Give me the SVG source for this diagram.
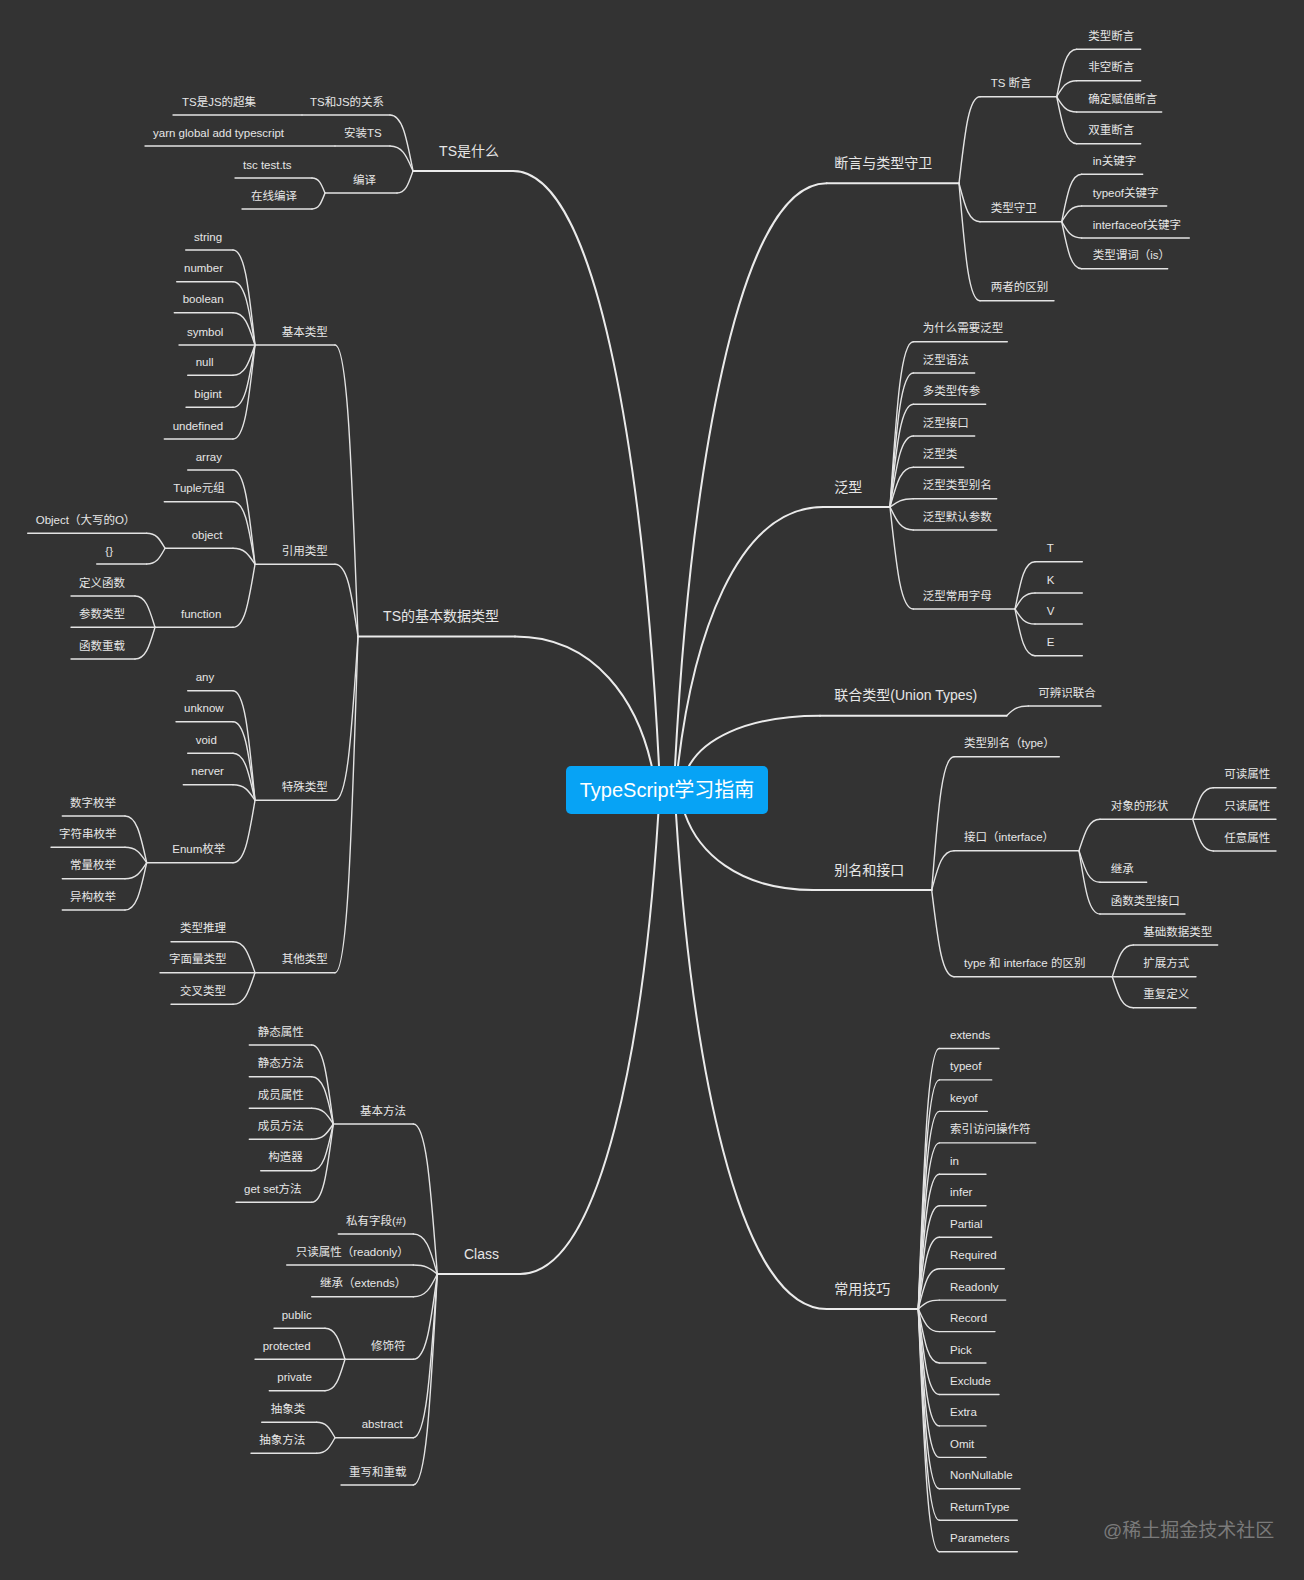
<svg xmlns="http://www.w3.org/2000/svg" width="1304" height="1580" viewBox="0 0 1304 1580">
<style>
text{font-family:"Liberation Sans","Noto Sans CJK SC",sans-serif;fill:#e6e6e6}
.t1{font-size:14px}
.t2{font-size:11.5px}
.e{text-anchor:end}
.k1{stroke:#ebebeb;stroke-width:2;fill:none;stroke-linecap:round}
.k2{stroke:#e3e3e3;stroke-width:1.4;fill:none;stroke-linecap:round}
</style>
<rect width="1304" height="1580" fill="#333333"/>
<g id="connectors">
<g class="k1">
<path d="M659,766 C644.4,480.4 600.6,171 513,171"/>
<path d="M651.7,766 C638,703.9 597,636.5 515,636.5"/>
<path d="M658.3,814 C644.5,1034.7 603,1274 520,1274"/>
<path d="M675,766 C690,486.3 735.7,183.3 826.7,183.3"/>
<path d="M678,766 C692.5,641.5 735.1,507 823.3,507"/>
<path d="M689,766 C702,741.9 741.4,715.7 820,715.7"/>
<path d="M685,814 C697.8,850.5 736.3,890 813.3,890"/>
<path d="M676,814 C691,1051.5 736.3,1309 826.7,1309"/>
</g>
<g class="k2">
<path d="M390,115 C402.7,115 406.6,138.5 413,171"/>
<path d="M390,146 C402.7,146 406.6,156.5 413,171"/>
<path d="M397,193 C405.8,193 408.5,183.8 413,171"/>
<path d="M312,178 C319.2,178 321.4,184.3 325,193"/>
<path d="M312,209 C319.2,209 321.4,202.3 325,193"/>
<path d="M335,345 C347.7,345 351.6,467.4 358,636.5"/>
<path d="M335,564.3 C347.7,564.3 351.6,594.6 358,636.5"/>
<path d="M335,800.3 C347.7,800.3 351.6,731.5 358,636.5"/>
<path d="M335,972.7 C347.7,972.7 351.6,831.5 358,636.5"/>
<path d="M233,250 C245.1,250 248.8,289.9 255,345"/>
<path d="M233,281.7 C245.1,281.7 248.8,308.3 255,345"/>
<path d="M233,312.7 C245.1,312.7 248.8,326.3 255,345"/>
<path d="M233,375.3 C245.1,375.3 248.8,362.6 255,345"/>
<path d="M233,407.3 C245.1,407.3 248.8,381.1 255,345"/>
<path d="M233,439 C245.1,439 248.8,399.5 255,345"/>
<path d="M233,470 C245.1,470 248.8,509.6 255,564.3"/>
<path d="M233,501.7 C245.1,501.7 248.8,528 255,564.3"/>
<path d="M233,548.3 C245.1,548.3 248.8,555 255,564.3"/>
<path d="M233,627.3 C245.1,627.3 248.8,600.8 255,564.3"/>
<path d="M146.7,533.3 C156.8,533.3 159.9,539.6 165,548.3"/>
<path d="M146.7,564 C156.8,564 159.9,557.4 165,548.3"/>
<path d="M135,596 C146,596 149.4,609.1 155,627.3"/>
<path d="M135,659 C146,659 149.4,645.7 155,627.3"/>
<path d="M233,690.7 C245.1,690.7 248.8,736.7 255,800.3"/>
<path d="M233,721.7 C245.1,721.7 248.8,754.7 255,800.3"/>
<path d="M233,753.3 C245.1,753.3 248.8,773 255,800.3"/>
<path d="M233,784.7 C245.1,784.7 248.8,791.3 255,800.3"/>
<path d="M233,862.7 C245.1,862.7 248.8,836.5 255,800.3"/>
<path d="M125,816 C136.9,816 140.6,835.6 146.7,862.7"/>
<path d="M125,847.3 C136.9,847.3 140.6,853.8 146.7,862.7"/>
<path d="M125,878.7 C136.9,878.7 140.6,872 146.7,862.7"/>
<path d="M125,910 C136.9,910 140.6,890.1 146.7,862.7"/>
<path d="M233,941.7 C245.1,941.7 248.8,954.7 255,972.7"/>
<path d="M233,1004.3 C245.1,1004.3 248.8,991 255,972.7"/>
<path d="M413.3,1124 C426.5,1124 430.6,1187 437.3,1274"/>
<path d="M413.3,1234 C426.5,1234 430.6,1250.8 437.3,1274"/>
<path d="M413.3,1265 C426.5,1265 430.6,1268.8 437.3,1274"/>
<path d="M413.3,1296.7 C426.5,1296.7 430.6,1287.2 437.3,1274"/>
<path d="M413.3,1359.3 C426.5,1359.3 430.6,1323.5 437.3,1274"/>
<path d="M413.3,1437.7 C426.5,1437.7 430.6,1368.9 437.3,1274"/>
<path d="M413.3,1485 C426.5,1485 430.6,1396.4 437.3,1274"/>
<path d="M311.7,1045 C323.6,1045 327.3,1078.2 333.3,1124"/>
<path d="M311.7,1076.7 C323.6,1076.7 327.3,1096.6 333.3,1124"/>
<path d="M311.7,1108.3 C323.6,1108.3 327.3,1114.9 333.3,1124"/>
<path d="M311.7,1139.3 C323.6,1139.3 327.3,1132.9 333.3,1124"/>
<path d="M311.7,1170.7 C323.6,1170.7 327.3,1151.1 333.3,1124"/>
<path d="M311.7,1202.3 C323.6,1202.3 327.3,1169.4 333.3,1124"/>
<path d="M325,1328.3 C336,1328.3 339.4,1341.3 345,1359.3"/>
<path d="M325,1390.7 C336,1390.7 339.4,1377.5 345,1359.3"/>
<path d="M316.7,1422.3 C326.8,1422.3 329.9,1428.8 335,1437.7"/>
<path d="M316.7,1453.3 C326.8,1453.3 329.9,1446.8 335,1437.7"/>
<path d="M980,96.7 C968.5,96.7 964.9,133.1 959,183.3"/>
<path d="M980,221.7 C968.5,221.7 964.9,205.6 959,183.3"/>
<path d="M980,300.7 C968.5,300.7 964.9,251.4 959,183.3"/>
<path d="M1076.7,49.3 C1065.7,49.3 1062.3,69.2 1056.7,96.7"/>
<path d="M1076.7,80.7 C1065.7,80.7 1062.3,87.4 1056.7,96.7"/>
<path d="M1076.7,112 C1065.7,112 1062.3,105.6 1056.7,96.7"/>
<path d="M1076.7,143.7 C1065.7,143.7 1062.3,124 1056.7,96.7"/>
<path d="M1081.7,174.3 C1070.7,174.3 1067.3,194.2 1061.7,221.7"/>
<path d="M1081.7,206 C1070.7,206 1067.3,212.6 1061.7,221.7"/>
<path d="M1081.7,238 C1070.7,238 1067.3,231.2 1061.7,221.7"/>
<path d="M1081.7,268.7 C1070.7,268.7 1067.3,249 1061.7,221.7"/>
<path d="M913.3,341.7 C900.5,341.7 896.5,411.3 890,507"/>
<path d="M913.3,373 C900.5,373 896.5,429.4 890,507"/>
<path d="M913.3,404.3 C900.5,404.3 896.5,447.6 890,507"/>
<path d="M913.3,436 C900.5,436 896.5,466 890,507"/>
<path d="M913.3,467.3 C900.5,467.3 896.5,484.1 890,507"/>
<path d="M913.3,498.7 C900.5,498.7 896.5,502.3 890,507"/>
<path d="M913.3,530 C900.5,530 896.5,520.5 890,507"/>
<path d="M913.3,609 C900.5,609 896.5,566.3 890,507"/>
<path d="M1035,561.7 C1024,561.7 1020.6,581.6 1015,609"/>
<path d="M1035,593 C1024,593 1020.6,599.7 1015,609"/>
<path d="M1035,624 C1024,624 1020.6,617.7 1015,609"/>
<path d="M1035,655.7 C1024,655.7 1020.6,636.1 1015,609"/>
<path d="M1028.3,706 C1016.4,706 1012.7,710.1 1006.7,715.7"/>
<path d="M954,756.7 C941.7,756.7 937.9,812.7 931.7,890"/>
<path d="M954,850.7 C941.7,850.7 937.9,867.2 931.7,890"/>
<path d="M954,976.7 C941.7,976.7 937.9,940.3 931.7,890"/>
<path d="M1100,819.3 C1088.5,819.3 1084.9,832.5 1079,850.7"/>
<path d="M1100,882.3 C1088.5,882.3 1084.9,869 1079,850.7"/>
<path d="M1100,914 C1088.5,914 1084.9,887.4 1079,850.7"/>
<path d="M1213.3,787.7 C1202,787.7 1198.5,801 1192.7,819.3"/>
<path d="M1213.3,851 C1202,851 1198.5,837.7 1192.7,819.3"/>
<path d="M1133.3,945 C1121.8,945 1118.2,958.3 1112.3,976.7"/>
<path d="M1133.3,1007.7 C1121.8,1007.7 1118.2,994.7 1112.3,976.7"/>
<path d="M939.3,1048.5 C927.8,1048.5 924.2,1157.9 918.3,1309"/>
<path d="M939.3,1079.9 C927.8,1079.9 924.2,1176.1 918.3,1309"/>
<path d="M939.3,1111.4 C927.8,1111.4 924.2,1194.4 918.3,1309"/>
<path d="M939.3,1142.9 C927.8,1142.9 924.2,1212.7 918.3,1309"/>
<path d="M939.3,1174.3 C927.8,1174.3 924.2,1230.9 918.3,1309"/>
<path d="M939.3,1205.8 C927.8,1205.8 924.2,1249.1 918.3,1309"/>
<path d="M939.3,1237.2 C927.8,1237.2 924.2,1267.4 918.3,1309"/>
<path d="M939.3,1268.7 C927.8,1268.7 924.2,1285.6 918.3,1309"/>
<path d="M939.3,1300.1 C927.8,1300.1 924.2,1303.8 918.3,1309"/>
<path d="M939.3,1331.6 C927.8,1331.6 924.2,1322.1 918.3,1309"/>
<path d="M939.3,1363 C927.8,1363 924.2,1340.3 918.3,1309"/>
<path d="M939.3,1394.5 C927.8,1394.5 924.2,1358.6 918.3,1309"/>
<path d="M939.3,1425.9 C927.8,1425.9 924.2,1376.8 918.3,1309"/>
<path d="M939.3,1457.4 C927.8,1457.4 924.2,1395.1 918.3,1309"/>
<path d="M939.3,1488.8 C927.8,1488.8 924.2,1413.3 918.3,1309"/>
<path d="M939.3,1520.3 C927.8,1520.3 924.2,1431.6 918.3,1309"/>
<path d="M939.3,1551.7 C927.8,1551.7 924.2,1449.8 918.3,1309"/>
</g>
</g>

<g id="root">
<rect x="566" y="766" width="202" height="48" rx="5" fill="#07a3f5"/>
<text x="667" y="797" text-anchor="middle" style="font-size:20px;fill:#ffffff">TypeScript学习指南</text>
</g>

<!-- TS是什么 -->
<g id="n-ts-what"><line class="k1" x1="413" y1="171" x2="513" y2="171"/><text class="t1 e" x="499" y="156">TS是什么</text></g>
<g id="n-ts-js"><line class="k2" x1="302" y1="115" x2="390" y2="115"/><text class="t2" x="310" y="105.5">TS和JS的关系</text></g>
<g id="n-superset"><line class="k2" x1="173" y1="115" x2="302" y2="115"/><text class="t2" x="182" y="105.5">TS是JS的超集</text></g>
<g id="n-install"><line class="k2" x1="335" y1="146" x2="390" y2="146"/><text class="t2" x="344" y="136.5">安装TS</text></g>
<g id="n-yarn"><line class="k2" x1="145" y1="146" x2="335" y2="146"/><text class="t2" x="153" y="136.5">yarn global add typescript</text></g>
<g id="n-compile"><line class="k2" x1="325" y1="193" x2="397" y2="193"/><text class="t2" x="353" y="183.5">编译</text></g>
<g id="n-tsc"><line class="k2" x1="235" y1="178" x2="312" y2="178"/><text class="t2" x="243" y="168.5">tsc test.ts</text></g>
<g id="n-online"><line class="k2" x1="242" y1="209" x2="312" y2="209"/><text class="t2" x="251" y="199.5">在线编译</text></g>

<!-- TS的基本数据类型 -->
<g id="n-basic-data"><line class="k1" x1="358" y1="636.5" x2="515" y2="636.5"/><text class="t1 e" x="499" y="621">TS的基本数据类型</text></g>
<g id="n-primitive"><line class="k2" x1="255" y1="345" x2="335" y2="345"/><text class="t2" x="281.7" y="335.5">基本类型</text></g>
<g id="n-string"><line class="k2" x1="185.7" y1="250" x2="233" y2="250"/><text class="t2" x="194" y="240.5">string</text></g>
<g id="n-number"><line class="k2" x1="176.7" y1="281.7" x2="233" y2="281.7"/><text class="t2" x="184" y="272.2">number</text></g>
<g id="n-boolean"><line class="k2" x1="174.3" y1="312.7" x2="233" y2="312.7"/><text class="t2" x="182.7" y="303.2">boolean</text></g>
<g id="n-symbol"><line class="k2" x1="179" y1="345" x2="255" y2="345"/><text class="t2" x="187" y="335.5">symbol</text></g>
<g id="n-null"><line class="k2" x1="187.7" y1="375.3" x2="233" y2="375.3"/><text class="t2" x="195.7" y="365.8">null</text></g>
<g id="n-bigint"><line class="k2" x1="186" y1="407.3" x2="233" y2="407.3"/><text class="t2" x="194.3" y="397.8">bigint</text></g>
<g id="n-undefined"><line class="k2" x1="164.3" y1="439" x2="233" y2="439"/><text class="t2" x="172.7" y="429.5">undefined</text></g>
<g id="n-reference"><line class="k2" x1="255" y1="564.3" x2="335" y2="564.3"/><text class="t2" x="281.7" y="554.8">引用类型</text></g>
<g id="n-array"><line class="k2" x1="187.7" y1="470" x2="233" y2="470"/><text class="t2" x="195.7" y="460.5">array</text></g>
<g id="n-tuple"><line class="k2" x1="164.3" y1="501.7" x2="233" y2="501.7"/><text class="t2" x="173.3" y="492.2">Tuple元组</text></g>
<g id="n-object"><line class="k2" x1="165" y1="548.3" x2="233" y2="548.3"/><text class="t2" x="191.7" y="538.8">object</text></g>
<g id="n-Object"><line class="k2" x1="27.7" y1="533.3" x2="146.7" y2="533.3"/><text class="t2" x="35.7" y="523.8">Object（大写的O）</text></g>
<g id="n-braces"><line class="k2" x1="96.7" y1="564" x2="146.7" y2="564"/><text class="t2" x="105.3" y="554.5">{}</text></g>
<g id="n-function"><line class="k2" x1="155" y1="627.3" x2="233" y2="627.3"/><text class="t2" x="181" y="617.8">function</text></g>
<g id="n-fn-def"><line class="k2" x1="71" y1="596" x2="135" y2="596"/><text class="t2" x="79" y="586.5">定义函数</text></g>
<g id="n-fn-param"><line class="k2" x1="71" y1="627.3" x2="155" y2="627.3"/><text class="t2" x="79" y="617.8">参数类型</text></g>
<g id="n-fn-overload"><line class="k2" x1="71" y1="659" x2="135" y2="659"/><text class="t2" x="79" y="649.5">函数重载</text></g>
<g id="n-special"><line class="k2" x1="255" y1="800.3" x2="335" y2="800.3"/><text class="t2" x="281.7" y="790.8">特殊类型</text></g>
<g id="n-any"><line class="k2" x1="187.7" y1="690.7" x2="233" y2="690.7"/><text class="t2" x="195.7" y="681.2">any</text></g>
<g id="n-unknow"><line class="k2" x1="176" y1="721.7" x2="233" y2="721.7"/><text class="t2" x="184" y="712.2">unknow</text></g>
<g id="n-void"><line class="k2" x1="187.7" y1="753.3" x2="233" y2="753.3"/><text class="t2" x="195.7" y="743.8">void</text></g>
<g id="n-nerver"><line class="k2" x1="183.3" y1="784.7" x2="233" y2="784.7"/><text class="t2" x="191.3" y="775.2">nerver</text></g>
<g id="n-enum"><line class="k2" x1="146.7" y1="862.7" x2="233" y2="862.7"/><text class="t2" x="172.3" y="853.2">Enum枚举</text></g>
<g id="n-enum-num"><line class="k2" x1="62.3" y1="816" x2="125" y2="816"/><text class="t2" x="70" y="806.5">数字枚举</text></g>
<g id="n-enum-str"><line class="k2" x1="51" y1="847.3" x2="125" y2="847.3"/><text class="t2" x="59" y="837.8">字符串枚举</text></g>
<g id="n-enum-const"><line class="k2" x1="62.3" y1="878.7" x2="125" y2="878.7"/><text class="t2" x="70" y="869.2">常量枚举</text></g>
<g id="n-enum-hetero"><line class="k2" x1="62.3" y1="910" x2="125" y2="910"/><text class="t2" x="70" y="900.5">异构枚举</text></g>
<g id="n-other"><line class="k2" x1="255" y1="972.7" x2="335" y2="972.7"/><text class="t2" x="281.7" y="963.2">其他类型</text></g>
<g id="n-infer-type"><line class="k2" x1="171" y1="941.7" x2="233" y2="941.7"/><text class="t2" x="180" y="932.2">类型推理</text></g>
<g id="n-literal"><line class="k2" x1="160" y1="972.7" x2="255" y2="972.7"/><text class="t2" x="169" y="963.2">字面量类型</text></g>
<g id="n-intersect"><line class="k2" x1="171" y1="1004.3" x2="233" y2="1004.3"/><text class="t2" x="180" y="994.8">交叉类型</text></g>

<!-- Class -->
<g id="n-class"><line class="k1" x1="437.3" y1="1274" x2="520" y2="1274"/><text class="t1 e" x="499" y="1258.5">Class</text></g>
<g id="n-basic-method"><line class="k2" x1="333.3" y1="1124" x2="413.3" y2="1124"/><text class="t2" x="360" y="1114.5">基本方法</text></g>
<g id="n-static-prop"><line class="k2" x1="249.3" y1="1045" x2="311.7" y2="1045"/><text class="t2" x="257.7" y="1035.5">静态属性</text></g>
<g id="n-static-method"><line class="k2" x1="249.3" y1="1076.7" x2="311.7" y2="1076.7"/><text class="t2" x="257.7" y="1067.2">静态方法</text></g>
<g id="n-member-prop"><line class="k2" x1="249.3" y1="1108.3" x2="311.7" y2="1108.3"/><text class="t2" x="257.7" y="1098.8">成员属性</text></g>
<g id="n-member-method"><line class="k2" x1="249.3" y1="1139.3" x2="311.7" y2="1139.3"/><text class="t2" x="257.7" y="1129.8">成员方法</text></g>
<g id="n-ctor"><line class="k2" x1="260.7" y1="1170.7" x2="311.7" y2="1170.7"/><text class="t2" x="268.3" y="1161.2">构造器</text></g>
<g id="n-getset"><line class="k2" x1="236" y1="1202.3" x2="311.7" y2="1202.3"/><text class="t2" x="244" y="1192.8">get set方法</text></g>
<g id="n-private-field"><line class="k2" x1="338.3" y1="1234" x2="413.3" y2="1234"/><text class="t2" x="346" y="1224.5">私有字段(#)</text></g>
<g id="n-readonly"><line class="k2" x1="286.7" y1="1265" x2="413.3" y2="1265"/><text class="t2" x="295.7" y="1255.5">只读属性（readonly）</text></g>
<g id="n-extends"><line class="k2" x1="311.7" y1="1296.7" x2="413.3" y2="1296.7"/><text class="t2" x="320" y="1287.2">继承（extends）</text></g>
<g id="n-modifier"><line class="k2" x1="345" y1="1359.3" x2="413.3" y2="1359.3"/><text class="t2" x="371" y="1349.8">修饰符</text></g>
<g id="n-public"><line class="k2" x1="274" y1="1328.3" x2="325" y2="1328.3"/><text class="t2" x="281.7" y="1318.8">public</text></g>
<g id="n-protected"><line class="k2" x1="255" y1="1359.3" x2="345" y2="1359.3"/><text class="t2" x="262.7" y="1349.8">protected</text></g>
<g id="n-private"><line class="k2" x1="269.3" y1="1390.7" x2="325" y2="1390.7"/><text class="t2" x="277.3" y="1381.2">private</text></g>
<g id="n-abstract"><line class="k2" x1="335" y1="1437.7" x2="413.3" y2="1437.7"/><text class="t2" x="361.7" y="1428.2">abstract</text></g>
<g id="n-abs-class"><line class="k2" x1="261.7" y1="1422.3" x2="316.7" y2="1422.3"/><text class="t2" x="270.7" y="1412.8">抽象类</text></g>
<g id="n-abs-method"><line class="k2" x1="251" y1="1453.3" x2="316.7" y2="1453.3"/><text class="t2" x="259.3" y="1443.8">抽象方法</text></g>
<g id="n-override"><line class="k2" x1="341" y1="1485" x2="413.3" y2="1485"/><text class="t2" x="349" y="1475.5">重写和重载</text></g>

<!-- 断言与类型守卫 -->
<g id="n-assert-guard"><line class="k1" x1="826.7" y1="183.3" x2="959" y2="183.3"/><text class="t1" x="834.3" y="168">断言与类型守卫</text></g>
<g id="n-ts-assert"><line class="k2" x1="980" y1="96.7" x2="1056.7" y2="96.7"/><text class="t2" x="990.7" y="87.2">TS 断言</text></g>
<g id="n-type-assert"><line class="k2" x1="1076.7" y1="49.3" x2="1140.7" y2="49.3"/><text class="t2" x="1088.3" y="39.8">类型断言</text></g>
<g id="n-nonnull-assert"><line class="k2" x1="1076.7" y1="80.7" x2="1140.7" y2="80.7"/><text class="t2" x="1088.3" y="71.2">非空断言</text></g>
<g id="n-definite-assert"><line class="k2" x1="1076.7" y1="112" x2="1161.7" y2="112"/><text class="t2" x="1088.3" y="102.5">确定赋值断言</text></g>
<g id="n-double-assert"><line class="k2" x1="1076.7" y1="143.7" x2="1140.7" y2="143.7"/><text class="t2" x="1088.3" y="134.2">双重断言</text></g>
<g id="n-type-guard"><line class="k2" x1="980" y1="221.7" x2="1061.7" y2="221.7"/><text class="t2" x="990.7" y="212.2">类型守卫</text></g>
<g id="n-in-kw"><line class="k2" x1="1081.7" y1="174.3" x2="1142.7" y2="174.3"/><text class="t2" x="1092.7" y="164.8">in关键字</text></g>
<g id="n-typeof-kw"><line class="k2" x1="1081.7" y1="206" x2="1166.7" y2="206"/><text class="t2" x="1092.7" y="196.5">typeof关键字</text></g>
<g id="n-interfaceof-kw"><line class="k2" x1="1081.7" y1="238" x2="1189.3" y2="238"/><text class="t2" x="1092.7" y="228.5">interfaceof关键字</text></g>
<g id="n-predicate"><line class="k2" x1="1081.7" y1="268.7" x2="1167.7" y2="268.7"/><text class="t2" x="1092.7" y="259.2">类型谓词（is）</text></g>
<g id="n-diff"><line class="k2" x1="980" y1="300.7" x2="1054" y2="300.7"/><text class="t2" x="990.7" y="291.2">两者的区别</text></g>

<!-- 泛型 -->
<g id="n-generic"><line class="k1" x1="823.3" y1="507" x2="890" y2="507"/><text class="t1" x="834.3" y="492">泛型</text></g>
<g id="n-g-why"><line class="k2" x1="913.3" y1="341.7" x2="1007.3" y2="341.7"/><text class="t2" x="922.7" y="332.2">为什么需要泛型</text></g>
<g id="n-g-syntax"><line class="k2" x1="913.3" y1="373" x2="974.7" y2="373"/><text class="t2" x="922.7" y="363.5">泛型语法</text></g>
<g id="n-g-multi"><line class="k2" x1="913.3" y1="404.3" x2="985.7" y2="404.3"/><text class="t2" x="922.7" y="394.8">多类型传参</text></g>
<g id="n-g-iface"><line class="k2" x1="913.3" y1="436" x2="974.7" y2="436"/><text class="t2" x="922.7" y="426.5">泛型接口</text></g>
<g id="n-g-class"><line class="k2" x1="913.3" y1="467.3" x2="963.7" y2="467.3"/><text class="t2" x="922.7" y="457.8">泛型类</text></g>
<g id="n-g-alias"><line class="k2" x1="913.3" y1="498.7" x2="996.7" y2="498.7"/><text class="t2" x="922.7" y="489.2">泛型类型别名</text></g>
<g id="n-g-default"><line class="k2" x1="913.3" y1="530" x2="996.7" y2="530"/><text class="t2" x="922.7" y="520.5">泛型默认参数</text></g>
<g id="n-g-letters"><line class="k2" x1="913.3" y1="609" x2="1015" y2="609"/><text class="t2" x="922.7" y="599.5">泛型常用字母</text></g>
<g id="n-T"><line class="k2" x1="1035" y1="561.7" x2="1082.3" y2="561.7"/><text class="t2" x="1046.7" y="552.2">T</text></g>
<g id="n-K"><line class="k2" x1="1035" y1="593" x2="1082.3" y2="593"/><text class="t2" x="1046.7" y="583.5">K</text></g>
<g id="n-V"><line class="k2" x1="1035" y1="624" x2="1082.3" y2="624"/><text class="t2" x="1046.7" y="614.5">V</text></g>
<g id="n-E"><line class="k2" x1="1035" y1="655.7" x2="1082.3" y2="655.7"/><text class="t2" x="1046.7" y="646.2">E</text></g>

<!-- 联合类型 -->
<g id="n-union"><line class="k1" x1="820" y1="715.7" x2="1006.7" y2="715.7"/><text class="t1" x="834.3" y="700">联合类型(Union Types)</text></g>
<g id="n-discriminated"><line class="k2" x1="1028.3" y1="706" x2="1101" y2="706"/><text class="t2" x="1038.3" y="696.5">可辨识联合</text></g>

<!-- 别名和接口 -->
<g id="n-alias-iface"><line class="k1" x1="813.3" y1="890" x2="931.7" y2="890"/><text class="t1" x="834.3" y="875">别名和接口</text></g>
<g id="n-type-alias"><line class="k2" x1="954" y1="756.7" x2="1059.3" y2="756.7"/><text class="t2" x="964" y="747.2">类型别名（type）</text></g>
<g id="n-interface"><line class="k2" x1="954" y1="850.7" x2="1079" y2="850.7"/><text class="t2" x="964" y="841.2">接口（interface）</text></g>
<g id="n-shape"><line class="k2" x1="1100" y1="819.3" x2="1192.7" y2="819.3"/><text class="t2" x="1110.7" y="809.8">对象的形状</text></g>
<g id="n-readable"><line class="k2" x1="1213.3" y1="787.7" x2="1276" y2="787.7"/><text class="t2" x="1224.3" y="778.2">可读属性</text></g>
<g id="n-readonly-prop"><line class="k2" x1="1192.7" y1="819.3" x2="1276" y2="819.3"/><text class="t2" x="1224.3" y="809.8">只读属性</text></g>
<g id="n-any-prop"><line class="k2" x1="1213.3" y1="851" x2="1276" y2="851"/><text class="t2" x="1224.3" y="841.5">任意属性</text></g>
<g id="n-inherit"><line class="k2" x1="1100" y1="882.3" x2="1146.7" y2="882.3"/><text class="t2" x="1110.7" y="872.8">继承</text></g>
<g id="n-fn-iface"><line class="k2" x1="1100" y1="914" x2="1185" y2="914"/><text class="t2" x="1110.7" y="904.5">函数类型接口</text></g>
<g id="n-type-vs-iface"><line class="k2" x1="954" y1="976.7" x2="1112.3" y2="976.7"/><text class="t2" x="964" y="967.2">type 和 interface 的区别</text></g>
<g id="n-basic-data-type"><line class="k2" x1="1133.3" y1="945" x2="1217.7" y2="945"/><text class="t2" x="1143.3" y="935.5">基础数据类型</text></g>
<g id="n-extend-way"><line class="k2" x1="1112.3" y1="976.7" x2="1196" y2="976.7"/><text class="t2" x="1143.3" y="967.2">扩展方式</text></g>
<g id="n-redefine"><line class="k2" x1="1133.3" y1="1007.7" x2="1196" y2="1007.7"/><text class="t2" x="1143.3" y="998.2">重复定义</text></g>

<!-- 常用技巧 -->
<g id="n-tips"><line class="k1" x1="826.7" y1="1309" x2="918.3" y2="1309"/><text class="t1" x="834.3" y="1294">常用技巧</text></g>
<g id="n-t-extends"><line class="k2" x1="939.3" y1="1048.5" x2="999" y2="1048.5"/><text class="t2" x="950" y="1039">extends</text></g>
<g id="n-t-typeof"><line class="k2" x1="939.3" y1="1079.9" x2="991.7" y2="1079.9"/><text class="t2" x="950" y="1070.4">typeof</text></g>
<g id="n-t-keyof"><line class="k2" x1="939.3" y1="1111.4" x2="987.3" y2="1111.4"/><text class="t2" x="950" y="1101.9">keyof</text></g>
<g id="n-t-index"><line class="k2" x1="939.3" y1="1142.9" x2="1035.7" y2="1142.9"/><text class="t2" x="950" y="1133.4">索引访问操作符</text></g>
<g id="n-t-in"><line class="k2" x1="939.3" y1="1174.3" x2="986" y2="1174.3"/><text class="t2" x="950" y="1164.8">in</text></g>
<g id="n-t-infer"><line class="k2" x1="939.3" y1="1205.8" x2="986" y2="1205.8"/><text class="t2" x="950" y="1196.3">infer</text></g>
<g id="n-t-partial"><line class="k2" x1="939.3" y1="1237.2" x2="991.7" y2="1237.2"/><text class="t2" x="950" y="1227.7">Partial</text></g>
<g id="n-t-required"><line class="k2" x1="939.3" y1="1268.7" x2="1004.3" y2="1268.7"/><text class="t2" x="950" y="1259.2">Required</text></g>
<g id="n-t-readonly"><line class="k2" x1="939.3" y1="1300.1" x2="1005.7" y2="1300.1"/><text class="t2" x="950" y="1290.6">Readonly</text></g>
<g id="n-t-record"><line class="k2" x1="939.3" y1="1331.6" x2="995" y2="1331.6"/><text class="t2" x="950" y="1322.1">Record</text></g>
<g id="n-t-pick"><line class="k2" x1="939.3" y1="1363" x2="986" y2="1363"/><text class="t2" x="950" y="1353.5">Pick</text></g>
<g id="n-t-exclude"><line class="k2" x1="939.3" y1="1394.5" x2="999" y2="1394.5"/><text class="t2" x="950" y="1385">Exclude</text></g>
<g id="n-t-extra"><line class="k2" x1="939.3" y1="1425.9" x2="986" y2="1425.9"/><text class="t2" x="950" y="1416.4">Extra</text></g>
<g id="n-t-omit"><line class="k2" x1="939.3" y1="1457.4" x2="986" y2="1457.4"/><text class="t2" x="950" y="1447.9">Omit</text></g>
<g id="n-t-nonnullable"><line class="k2" x1="939.3" y1="1488.8" x2="1020" y2="1488.8"/><text class="t2" x="950" y="1479.3">NonNullable</text></g>
<g id="n-t-returntype"><line class="k2" x1="939.3" y1="1520.3" x2="1017.3" y2="1520.3"/><text class="t2" x="950" y="1510.8">ReturnType</text></g>
<g id="n-t-parameters"><line class="k2" x1="939.3" y1="1551.7" x2="1017.3" y2="1551.7"/><text class="t2" x="950" y="1542.2">Parameters</text></g>

<text x="1103" y="1537" style="font-size:19px;fill:#7a7a7a">@稀土掘金技术社区</text>
</svg>
